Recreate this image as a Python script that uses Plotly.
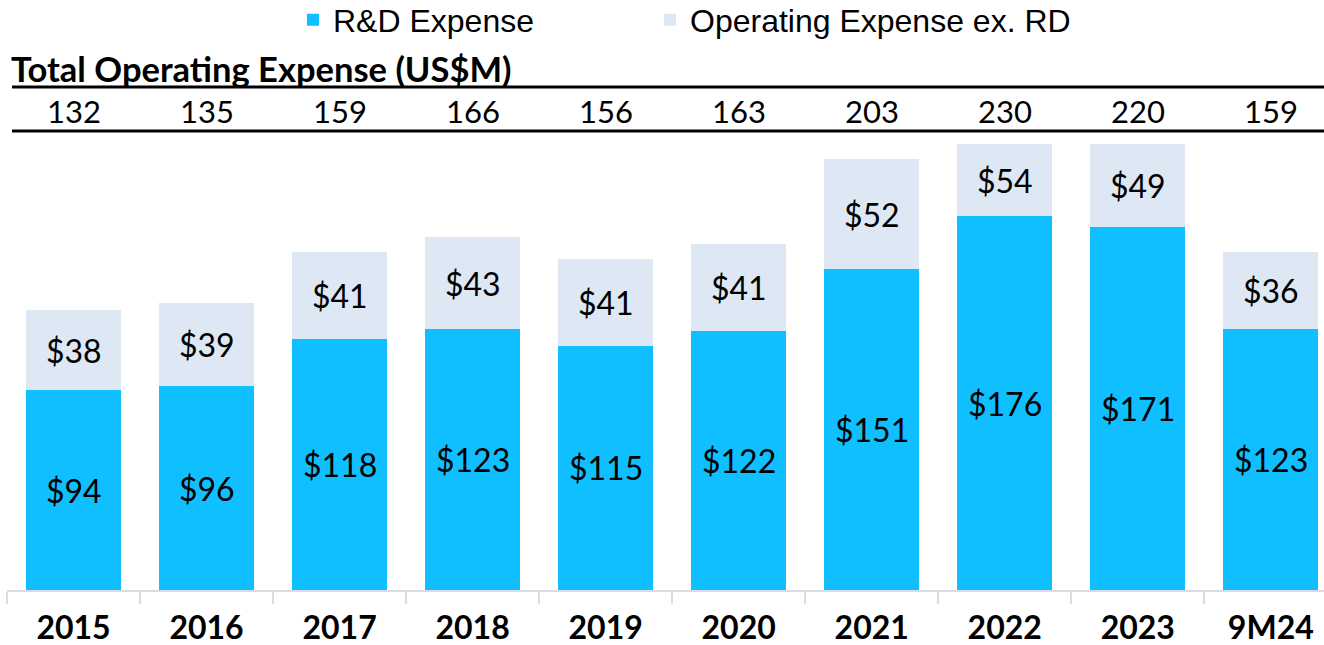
import plotly.graph_objects as go

categories = ["2015", "2016", "2017", "2018", "2019", "2020", "2021", "2022", "2023", "9M24"]
rd_expense = [94, 96, 118, 123, 115, 122, 151, 176, 171, 123]
other_opex = [38, 39, 41, 43, 41, 41, 52, 54, 49, 36]
totals = [132, 135, 159, 166, 156, 163, 203, 230, 220, 159]

BLUE = "#10BFFF"
LIGHT = "#DDE8F4"
Y_MAX = 210
NUM_FONT = "Lato, Open Sans, sans-serif"
LEG_FONT = dict(size=32, family="Liberation Sans, Arial, sans-serif", color="black")

fig = go.Figure()
fig.add_trace(go.Bar(x=categories, y=rd_expense, name="R&D Expense", legend="legend",
                     marker=dict(color=BLUE, line=dict(width=0)), hoverinfo="skip"))
fig.add_trace(go.Bar(x=categories, y=other_opex, name="Operating Expense ex. RD", legend="legend2",
                     marker=dict(color=LIGHT, line=dict(width=0)), hoverinfo="skip"))

annotations = []
for i, c in enumerate(categories):
    r = rd_expense[i]
    o = other_opex[i]
    annotations.append(dict(x=i, y=r / 2, xref="x", yref="y", text=f"${r}",
                            showarrow=False, font=dict(size=32, color="black", family=NUM_FONT)))
    top = min(r + o, Y_MAX)
    annotations.append(dict(x=i, y=(r + top) / 2, xref="x", yref="y", text=f"${o}",
                            showarrow=False, font=dict(size=32, color="black", family=NUM_FONT)))
    annotations.append(dict(x=i, y=1.074, xref="x", yref="paper", text=str(totals[i]),
                            yanchor="middle", showarrow=False,
                            font=dict(size=31, color="black", family=NUM_FONT)))

annotations.append(dict(x=0.0015, y=1.170, xref="paper", yref="paper", xanchor="left",
                        yanchor="middle", showarrow=False,
                        text="<b>Total Operating Expense (US$M)</b>",
                        font=dict(size=34.5, color="black", family=NUM_FONT)))

shapes = [
    dict(type="line", xref="paper", yref="paper", x0=0.0038, x1=1.0, y0=1.128, y1=1.128,
         line=dict(color="black", width=3)),
    dict(type="line", xref="paper", yref="paper", x0=0.0038, x1=1.0, y0=1.029, y1=1.029,
         line=dict(color="black", width=3)),
]

leg_common = dict(orientation="h", xref="container", yref="container", xanchor="left",
                  yanchor="middle", y=1 - 20 / 645, font=LEG_FONT, itemwidth=30,
                  bgcolor="rgba(0,0,0,0)")

fig.update_layout(
    width=1324, height=645,
    barmode="stack", bargap=0.285,
    margin=dict(l=7, r=0, t=144, b=55, autoexpand=False),
    plot_bgcolor="white", paper_bgcolor="white",
    showlegend=True,
    legend=dict(x=293 / 1324, **leg_common),
    legend2=dict(x=650 / 1324, **leg_common),
    xaxis=dict(range=[-0.5, 9.4], showgrid=False, showline=True, linecolor="#D9DDE3",
               linewidth=2, ticks="outside", tickson="boundaries", ticklen=12,
               tickcolor="#D9DDE3", tickwidth=2, ticklabelstandoff=9, automargin=False,
               tickfont=dict(size=32, color="black", family="Lato, sans-serif", weight="bold"),
               fixedrange=True),
    yaxis=dict(range=[0, Y_MAX], visible=False, showgrid=False, zeroline=False, fixedrange=True,
               automargin=False),
    annotations=annotations,
    shapes=shapes,
)

fig.write_html("out.html", config={"displayModeBar": False},
               post_script="document.body.style.margin='0';")
